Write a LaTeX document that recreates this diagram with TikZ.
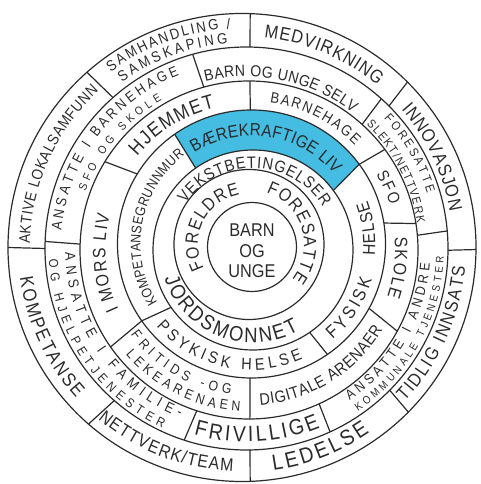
\documentclass[tikz,border=0pt]{standalone}
\usepackage{fontspec}
\setmainfont{Liberation Sans}[FakeStretch=0.88]
\usetikzlibrary{calc,decorations.text}
\newcommand{\fsz}[1]{\fontsize{#1}{#1}\selectfont}

\begin{document}
\begin{tikzpicture}[x=1pt, y=1pt,
    ring/.style={draw=ringLine, line width=1.2pt},
    curved/.style={decorate, decoration={text along path, text align={fit to path}, text color=ringLine, text={#1}}}]
    % Color Palette
    \definecolor{ringLine}{HTML}{2B2B2B}
    \definecolor{bandBlue}{HTML}{45BDE2}

    \useasboundingbox (0,0) rectangle (480,484);

    % Ring centres (hand drawn, not quite concentric)
    \coordinate (c1) at (252,237);
    \coordinate (c2) at (249,239.5);
    \coordinate (c3) at (253,234);
    \coordinate (c4) at (251.5,240);
    \coordinate (c5) at (249,234);
    \coordinate (c6) at (246.5,235.5);
    \coordinate (c7) at (242,236.5);

    % Highlighted band
    \fill[bandBlue] ($(c4)+(36.5:134)$) arc[start angle=36.5, end angle=125, radius=134]
        -- ($(c3)+(125:100)$) arc[start angle=125, end angle=36.5, radius=100] -- cycle;

    % --- Circles ---
    \draw[ring] (c1) circle[radius=44.5];
    \draw[ring] (c2) circle[radius=75];
    \draw[ring] (c3) circle[radius=100];
    \draw[ring] (c4) circle[radius=134];
    \draw[ring] (c5) circle[radius=169];
    \draw[ring] (c6) circle[radius=201.5];
    \draw[ring] (c7) circle[radius=234];

    % --- Dividers, ring 4 ---
    \draw[ring] ($(c3)+(125:100)$) -- ($(c4)+(125:134)$);
    \draw[ring] ($(c3)+(36.5:100)$) -- ($(c4)+(36.5:134)$);
    \draw[ring] ($(c3)+(-55.5:100)$) -- ($(c4)+(-55.5:134)$);
    \draw[ring] ($(c3)+(-145:100)$) -- ($(c4)+(-145:134)$);

    % --- Dividers, ring 5 ---
    \draw[ring] ($(c4)+(90.5:134)$) -- ($(c5)+(89.7:169)$);
    \draw[ring] ($(c4)+(36.5:134)$) -- ($(c5)+(36.5:169)$);
    \draw[ring] ($(c4)+(9:134)$) -- ($(c5)+(9:169)$);
    \draw[ring] ($(c4)+(-28.7:134)$) -- ($(c5)+(-28.7:169)$);
    \draw[ring] ($(c4)+(-90.6:134)$) -- ($(c5)+(-89.7:169)$);
    \draw[ring] ($(c4)+(-145:134)$) -- ($(c5)+(-145:169)$);
    \draw[ring] ($(c4)+(148.5:134)$) -- ($(c5)+(148.5:169)$);

    % --- Dividers, ring 6 ---
    \draw[ring] ($(c5)+(105.5:169)$) -- ($(c6)+(105.5:201.5)$);
    \draw[ring] ($(c5)+(48:169)$) -- ($(c6)+(48:201.5)$);
    \draw[ring] ($(c5)+(5:169)$) -- ($(c6)+(5:201.5)$);
    \draw[ring] ($(c5)+(-65.5:169)$) -- ($(c6)+(-65.5:201.5)$);
    \draw[ring] ($(c5)+(-108:169)$) -- ($(c6)+(-108:201.5)$);
    \draw[ring] ($(c5)+(178:169)$) -- ($(c6)+(178:201.5)$);

    % --- Dividers, ring 7 ---
    \draw[ring] ($(c6)+(89:201.5)$) -- ($(c7)+(88:234)$);
    \draw[ring] ($(c6)+(45:201.5)$) -- ($(c7)+(45:234)$);
    \draw[ring] ($(c6)+(-0.5:201.5)$) -- ($(c7)+(-0.5:234)$);
    \draw[ring] ($(c6)+(-44.7:201.5)$) -- ($(c7)+(-44.7:234)$);
    \draw[ring] ($(c6)+(-89:201.5)$) -- ($(c7)+(-88:234)$);
    \draw[ring] ($(c6)+(-131:201.5)$) -- ($(c7)+(-131:234)$);
    \draw[ring] ($(c6)+(180:201.5)$) -- ($(c7)+(180:234)$);
    \draw[ring] ($(c6)+(131.5:201.5)$) -- ($(c7)+(131.5:234)$);

    % --- Centre ---
    \node[font={\fontsize{18.5}{20.5}\selectfont}, text=ringLine, align=center] (core) at ($(c1)+(0,-4)$) {BARN\\OG\\UNGE};

    % --- Ring 2 ---
    \path[curved={|\fsz{18}|FORELDRE}] ($(c2)+(208:51)$) arc[start angle=208, end angle=100.4, radius=51];
    \path[curved={|\fsz{18}|FORESATTE}] ($(c2)+(71.6:55)$) arc[start angle=71.6, end angle=-38.5, radius=55];

    % --- Ring 3 ---
    \path[curved={|\fsz{16.5}|VEKSTBETINGELSER}] ($(c3)+(145.5:82)$) arc[start angle=145.5, end angle=31.4, radius=82];
    \path[curved={|\fsz{21}|JORDSMONNET}] ($(c3)+(197.9:93)$) arc[start angle=197.9, end angle=299.7, radius=93];

    % --- Ring 4 ---
    \path[curved={|\fsz{17.5}|BÆREKRAFTIGE LIV}] ($(c4)+(122:108)$) arc[start angle=122, end angle=40, radius=108];
    \path[curved={|\fsz{18}|FYSISK}] ($(c4)+(-49.8:125.5)$) arc[start angle=-49.8, end angle=-16.5, radius=125.5];
    \path[curved={|\fsz{17.5}|HELSE}] ($(c4)+(-5.3:123.7)$) arc[start angle=-5.3, end angle=20.4, radius=123.7];
    \path[curved={|\fsz{16.5}|PSYKISK HELSE}] ($(c4)+(-139:126)$) arc[start angle=-139, end angle=-66, radius=126];
    \path[curved={|\fsz{14}|KOMPETANSEGRUNNMUR}] ($(c4)+(212:111)$) arc[start angle=212, end angle=127, radius=111];

    % --- Ring 5 ---
    \path[curved={|\fsz{20}|HJEMMET}] ($(c5)+(140:146)$) arc[start angle=140, end angle=103.5, radius=146];
    \path[curved={|\fsz{15}|BARNEHAGE}] ($(c5)+(82:149)$) arc[start angle=82, end angle=44.7, radius=149];
    \path[curved={|\fsz{16.5}|SFO}] ($(c5)+(30.8:148)$) arc[start angle=30.8, end angle=17.6, radius=148];
    \path[curved={|\fsz{18}|SKOLE}] ($(c5)+(5:146)$) arc[start angle=5, end angle=-18.7, radius=146];
    \path[curved={|\fsz{16.5}|DIGITALE ARENAER}] ($(c5)+(-85.9:155.5)$) arc[start angle=-85.9, end angle=-30.8, radius=155.5];
    \path[curved={|\fsz{14}|FRITIDS -OG}] ($(c5)+(215.5:145.5)$) arc[start angle=215.5, end angle=262.8, radius=145.5];
    \path[curved={|\fsz{14}|LEKEARENAEN}] ($(c5)+(220.2:161.5)$) arc[start angle=220.2, end angle=266.8, radius=161.5];
    \path[curved={|\fsz{18}|I MORS LIV}] ($(c5)+(204.6:143.5)$) arc[start angle=204.6, end angle=165.8, radius=143.5];

    % --- Ring 6 ---
    \path[curved={|\fsz{16}|BARN OG UNGE SELV}] ($(c6)+(103.8:172)$) arc[start angle=103.8, end angle=51.9, radius=172];
    \path[curved={|\fsz{12.5}|FORESATTE}] ($(c6)+(43.4:189)$) arc[start angle=43.4, end angle=17, radius=189];
    \path[curved={|\fsz{12}|SLEKT/NETTVERK}] ($(c6)+(46:172.5)$) arc[start angle=46, end angle=8.5, radius=172.5];
    \path[curved={|\fsz{14}|ANSATTE I ANDRE}] ($(c6)+(-55.9:184)$) arc[start angle=-55.9, end angle=-4.6, radius=184];
    \path[curved={|\fsz{11}|KOMMUNALE TJENESTER}] ($(c6)+(-55.6:197.5)$) arc[start angle=-55.6, end angle=-2.4, radius=197.5];
    \path[curved={|\fsz{22}|FRIVILLIGE}] ($(c6)+(-105.8:193.5)$) arc[start angle=-105.8, end angle=-67.6, radius=193.5];
    \path[curved={|\fsz{14.5}|ANSATTE I FAMILIE-}] ($(c6)+(181.4:181.5)$) arc[start angle=181.4, end angle=248.5, radius=181.5];
    \path[curved={|\fsz{13}|OG HJELPETJENESTER}] ($(c6)+(183.3:198)$) arc[start angle=183.3, end angle=244.9, radius=198];
    \path[curved={|\fsz{14.5}|ANSATTE I BARNEHAGE}] ($(c6)+(174.5:186)$) arc[start angle=174.5, end angle=111.2, radius=186];
    \path[curved={|\fsz{11.5}|SFO OG SKOLE}] ($(c6)+(160.6:170.5)$) arc[start angle=160.6, end angle=119.7, radius=170.5];

    % --- Ring 7 (outer) ---
    \path[curved={|\fsz{18.5}|MEDVIRKNING}] ($(c7)+(84:211)$) arc[start angle=84, end angle=50, radius=211];
    \path[curved={|\fsz{18.5}|INNOVASJON}] ($(c7)+(41:211)$) arc[start angle=41, end angle=9.8, radius=211];
    \path[curved={|\fsz{18.5}|TIDLIG INNSATS}] ($(c7)+(-43.5:224)$) arc[start angle=-43.5, end angle=-4.9, radius=224];
    \path[curved={|\fsz{22}|LEDELSE}] ($(c7)+(-82:225)$) arc[start angle=-82, end angle=-55.4, radius=225];
    \path[curved={|\fsz{18}|NETTVERK/TEAM}] ($(c7)+(-130:224)$) arc[start angle=-130, end angle=-92.3, radius=224];
    \path[curved={|\fsz{19}|KOMPETANSE}] ($(c7)+(-172.3:224)$) arc[start angle=-172.3, end angle=-137.8, radius=224];
    \path[curved={|\fsz{15.5}|AKTIVE LOKALSAMFUNN}] ($(c7)+(179:212)$) arc[start angle=179, end angle=132.5, radius=212];
    \path[curved={|\fsz{15}|SAMHANDLING /}] ($(c7)+(126.8:219)$) arc[start angle=126.8, end angle=93, radius=219];
    \path[curved={|\fsz{15}|SAMSKAPING}] ($(c7)+(126:204)$) arc[start angle=126, end angle=94, radius=204];

\end{tikzpicture}
\end{document}
